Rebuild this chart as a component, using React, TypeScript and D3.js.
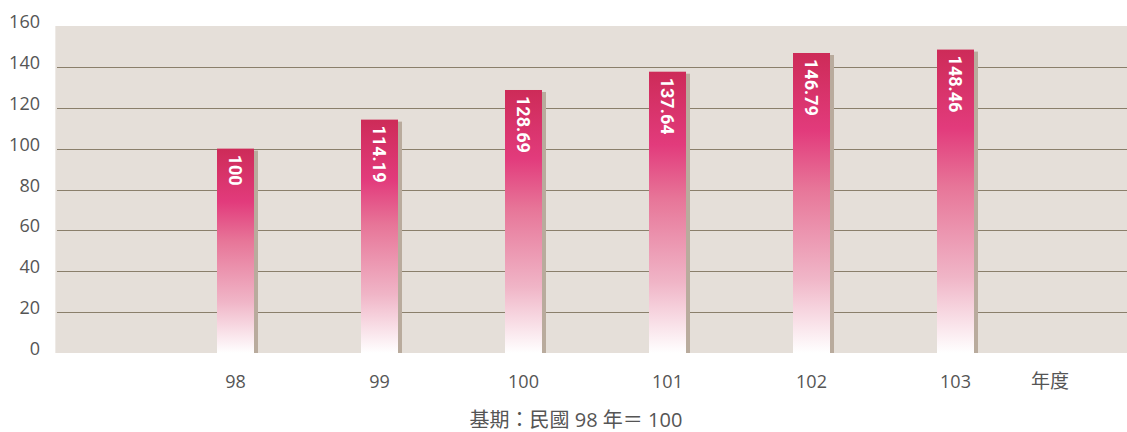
import React from "react";
import * as d3 from "d3";

const years = ["98", "99", "100", "101", "102", "103"];
const values = [100, 114.19, 128.69, 137.64, 146.79, 148.46];
const valueLabels = ["100", "114.19", "128.69", "137.64", "146.79", "148.46"];
const yTicks = [0, 20, 40, 60, 80, 100, 120, 140, 160];
const gridTicks = [20, 40, 60, 80, 100, 120, 140];
const unitLabel = "年度";
const noteLabel = "基期：民國 98 年＝ 100";

const W = 1127;
const H = 432;
const plotLeft = 56;
const plotRight = 1127;
const plotTop = 26;
const plotBottom = 353;
const barW = 37;

export default function App() {
  const y = d3.scaleLinear().domain([0, 160]).range([plotBottom, plotTop]);
  const x = d3.scalePoint<string>().domain(years).range([235.5, 955.5]);
  const font = "'Open Sans', 'Noto Sans CJK TC', sans-serif";

  return (
    <svg width={W} height={H} style={{ position: "absolute", left: 0, top: 0 }}>
      <defs>
        <linearGradient id="barGrad" x1="0" y1="0" x2="0" y2="1">
          <stop offset="0%" stopColor="#cd2b58" />
          <stop offset="26%" stopColor="#e23b7c" />
          <stop offset="45%" stopColor="#e77598" />
          <stop offset="75%" stopColor="#f0b5c7" />
          <stop offset="100%" stopColor="#ffffff" />
        </linearGradient>
      </defs>
      <rect x={plotLeft - 1} y={plotTop} width={plotRight - plotLeft + 1} height={plotBottom - plotTop} fill="#eeeae6" />
      <rect x={plotLeft} y={plotTop} width={plotRight - plotLeft} height={plotBottom - plotTop} fill="#e5dfd9" />
      {gridTicks.map((t) => (
        <line key={t} x1={plotLeft + 1} x2={plotRight} y1={Math.round(y(t)) + 0.5} y2={Math.round(y(t)) + 0.5} stroke="#8a7f6b" strokeWidth={1} />
      ))}
      {yTicks.map((t) => (
        <text key={t} x={40} y={y(t) - 5} textAnchor="end" dominantBaseline="central" fontFamily={font} fontSize={18} fill="#555">
          {t}
        </text>
      ))}
      {years.map((yr, i) => {
        const cx = x(yr) as number;
        const top = y(values[i]);
        return (
          <g key={yr}>
            <rect x={cx + barW / 2} y={top + 2} width={4} height={plotBottom - top - 2} fill="#b9ab9d" />
            <rect x={cx - barW / 2} y={top} width={barW} height={plotBottom - top} fill="url(#barGrad)" />
            <text
              transform={`translate(${cx},${top + 6}) rotate(90)`}
              textAnchor="start"
              dominantBaseline="central"
              fontFamily="Roboto, sans-serif"
              fontWeight="bold"
              fontSize={18}
              fill="#ffffff"
            >
              {valueLabels[i]}
            </text>
            <text x={cx} y={381} textAnchor="middle" dominantBaseline="central" fontFamily={font} fontSize={18} fill="#555">
              {yr}
            </text>
          </g>
        );
      })}
      <text x={1050} y={381} textAnchor="middle" dominantBaseline="central" fontFamily={font} fontSize={19} fill="#555">
        {unitLabel}
      </text>
      <text x={576} y={419} textAnchor="middle" dominantBaseline="central" fontFamily={font} fontSize={20} fill="#555">
        {noteLabel}
      </text>
    </svg>
  );
}
